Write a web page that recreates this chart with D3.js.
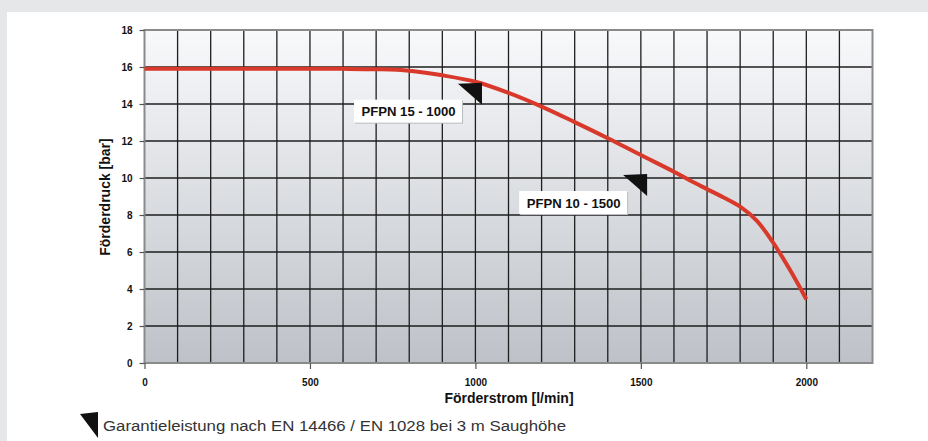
<!DOCTYPE html>
<html>
<head>
<meta charset="utf-8">
<script src="https://cdn.jsdelivr.net/npm/d3@7"></script>
<style>
  html, body { margin: 0; padding: 0; background: #e6e7e9; }
  svg { display: block; }
</style>
</head>
<body>
<svg></svg>
<script>
// Förderstrom [l/min] and Förderdruck [bar]
let flow = [0, 100, 200, 300, 400, 500, 600, 700, 800, 900, 1000, 1100, 1200, 1300, 1400, 1500, 1600, 1650, 1700, 1750, 1800, 1850, 1900, 1950, 2000]
let pressure = [15.9, 15.9, 15.9, 15.9, 15.9, 15.9, 15.9, 15.88, 15.8, 15.55, 15.2, 14.6, 13.86, 13.02, 12.15, 11.24, 10.34, 9.85, 9.4, 8.95, 8.45, 7.7, 6.5, 5.05, 3.45]

let xTicks = [0, 500, 1000, 1500, 2000]
let yTicks = [0, 2, 4, 6, 8, 10, 12, 14, 16, 18]

// model labels and the flow/pressure point their marker sits on
let labelNames = ['PFPN 15 - 1000', 'PFPN 10 - 1500']
let labelFlow = [1020, 1519]
let labelPressure = [15.1, 10.16]

let footnote = 'Garantieleistung nach EN 14466 / EN 1028 bei 3 m Saughöhe'

let width = 928
let height = 441
let plotLeft = 144.5, plotRight = 872.5, plotTop = 30, plotBottom = 363

let svg = d3.select('svg').attr('width', width).attr('height', height)

// white page with the grey strips left and on top
svg.append('rect').attr('x', 7).attr('y', 12).attr('width', width - 7).attr('height', height - 12).attr('fill', '#ffffff')

let xScale = d3.scaleLinear().domain([0, 2200]).range([plotLeft, plotRight])
let yScale = d3.scaleLinear().domain([0, 18]).range([plotBottom, plotTop])

let defs = svg.append('defs')
let grad = defs.append('linearGradient').attr('id', 'bg').attr('x1', 0).attr('y1', 0).attr('x2', 0).attr('y2', 1)
grad.append('stop').attr('offset', '0%').attr('stop-color', '#f8f9fb')
grad.append('stop').attr('offset', '100%').attr('stop-color', '#bec2c8')

svg.append('rect')
   .attr('x', plotLeft).attr('y', plotTop)
   .attr('width', plotRight - plotLeft).attr('height', plotBottom - plotTop)
   .attr('fill', 'url(#bg)')

// grid every 100 l/min and every 2 bar
let grid = svg.append('g')
grid.selectAll('line.v')
    .data(d3.range(100, 2200, 100))
    .enter().append('line')
    .attr('class', 'v')
    .attr('x1', d => xScale(d)).attr('x2', d => xScale(d))
    .attr('y1', plotTop).attr('y2', plotBottom)
    .attr('stroke', '#1e1e1e').attr('stroke-width', 1.3)
grid.selectAll('line.h')
    .data(d3.range(2, 18, 2))
    .enter().append('line')
    .attr('class', 'h')
    .attr('y1', d => yScale(d)).attr('y2', d => yScale(d))
    .attr('x1', plotLeft).attr('x2', plotRight)
    .attr('stroke', '#1e1e1e').attr('stroke-width', 1.3)

svg.append('rect')
   .attr('x', plotLeft).attr('y', plotTop)
   .attr('width', plotRight - plotLeft).attr('height', plotBottom - plotTop)
   .attr('fill', 'none').attr('stroke', '#8a8a8a').attr('stroke-width', 2)

// axes
let xAxis = d3.axisBottom(xScale).tickValues(xTicks).tickFormat(d3.format('d')).tickSize(6).tickPadding(10).tickSizeOuter(0)
let yAxis = d3.axisLeft(yScale).tickValues(yTicks).tickFormat(d3.format('d')).tickSize(5).tickPadding(7).tickSizeOuter(0)

let gx = svg.append('g').attr('transform', 'translate(0,' + plotBottom + ')').call(xAxis)
let gy = svg.append('g').attr('transform', 'translate(' + plotLeft + ',0)').call(yAxis)
;[gx, gy].forEach(g => {
    g.select('.domain').remove()
    g.selectAll('line').attr('stroke', '#555').attr('stroke-width', 1.2)
    g.selectAll('text')
     .attr('fill', '#111')
     .style('font-family', '"Liberation Sans", Arial, sans-serif')
     .style('font-size', '10px')
     .style('font-weight', 'bold')
})

// curve
let points = flow.map((f, i) => [f, pressure[i]])
let line = d3.line()
             .x(d => xScale(d[0]))
             .y(d => yScale(d[1]))
             .curve(d3.curveCatmullRom.alpha(0.5))
svg.append('path')
   .datum(points)
   .attr('d', line)
   .attr('fill', 'none')
   .attr('stroke', '#d8392b')
   .attr('stroke-width', 4)

// model labels with their black corner markers
let fontLabel = '"Liberation Sans", Arial, sans-serif'
labelNames.forEach((name, i) => {
    let px = xScale(labelFlow[i])
    let py = yScale(labelPressure[i])
    svg.append('path')
       .attr('d', 'M' + (px - 24) + ',' + py + ' L' + px + ',' + (py - 1) + ' L' + px + ',' + (py + 21) + ' Z')
       .attr('fill', '#111')
    let bx = px - 128
    let by = py + 16
    let g = svg.append('g')
    g.append('rect')
     .attr('x', bx + 1).attr('y', by + 1)
     .attr('width', 108).attr('height', 23)
     .attr('fill', '#b9bcc2')
    g.append('rect')
     .attr('x', bx).attr('y', by)
     .attr('width', 108).attr('height', 23)
     .attr('fill', '#ffffff')
    g.append('text')
     .attr('x', bx + 7.5).attr('y', by + 16.5)
     .attr('fill', '#111')
     .attr('textLength', 94).attr('lengthAdjust', 'spacingAndGlyphs')
     .style('font-family', fontLabel)
     .style('font-size', '13px')
     .style('font-weight', 'bold')
     .text(name)
})

// axis titles
svg.append('text')
   .attr('x', (plotLeft + plotRight) / 2 + 0.5).attr('y', 403)
   .attr('text-anchor', 'middle')
   .attr('fill', '#111')
   .style('font-family', fontLabel).style('font-size', '14px').style('font-weight', 'bold')
   .text('Förderstrom [l/min]')

svg.append('text')
   .attr('transform', 'translate(110,197) rotate(-90)')
   .attr('text-anchor', 'middle')
   .attr('fill', '#111')
   .style('font-family', fontLabel).style('font-size', '14px').style('font-weight', 'bold')
   .text('Förderdruck [bar]')

// footnote
svg.append('path')
   .attr('d', 'M80,414 L98,412 L98,438 Z')
   .attr('fill', '#111')
svg.append('text')
   .attr('x', 103).attr('y', 431)
   .attr('fill', '#333')
   .attr('textLength', 463).attr('lengthAdjust', 'spacingAndGlyphs')
   .style('font-family', '"Liberation Sans Narrow", "Liberation Sans", Arial, sans-serif')
   .style('font-size', '15.5px')
   .text(footnote)
</script>
</body>
</html>
